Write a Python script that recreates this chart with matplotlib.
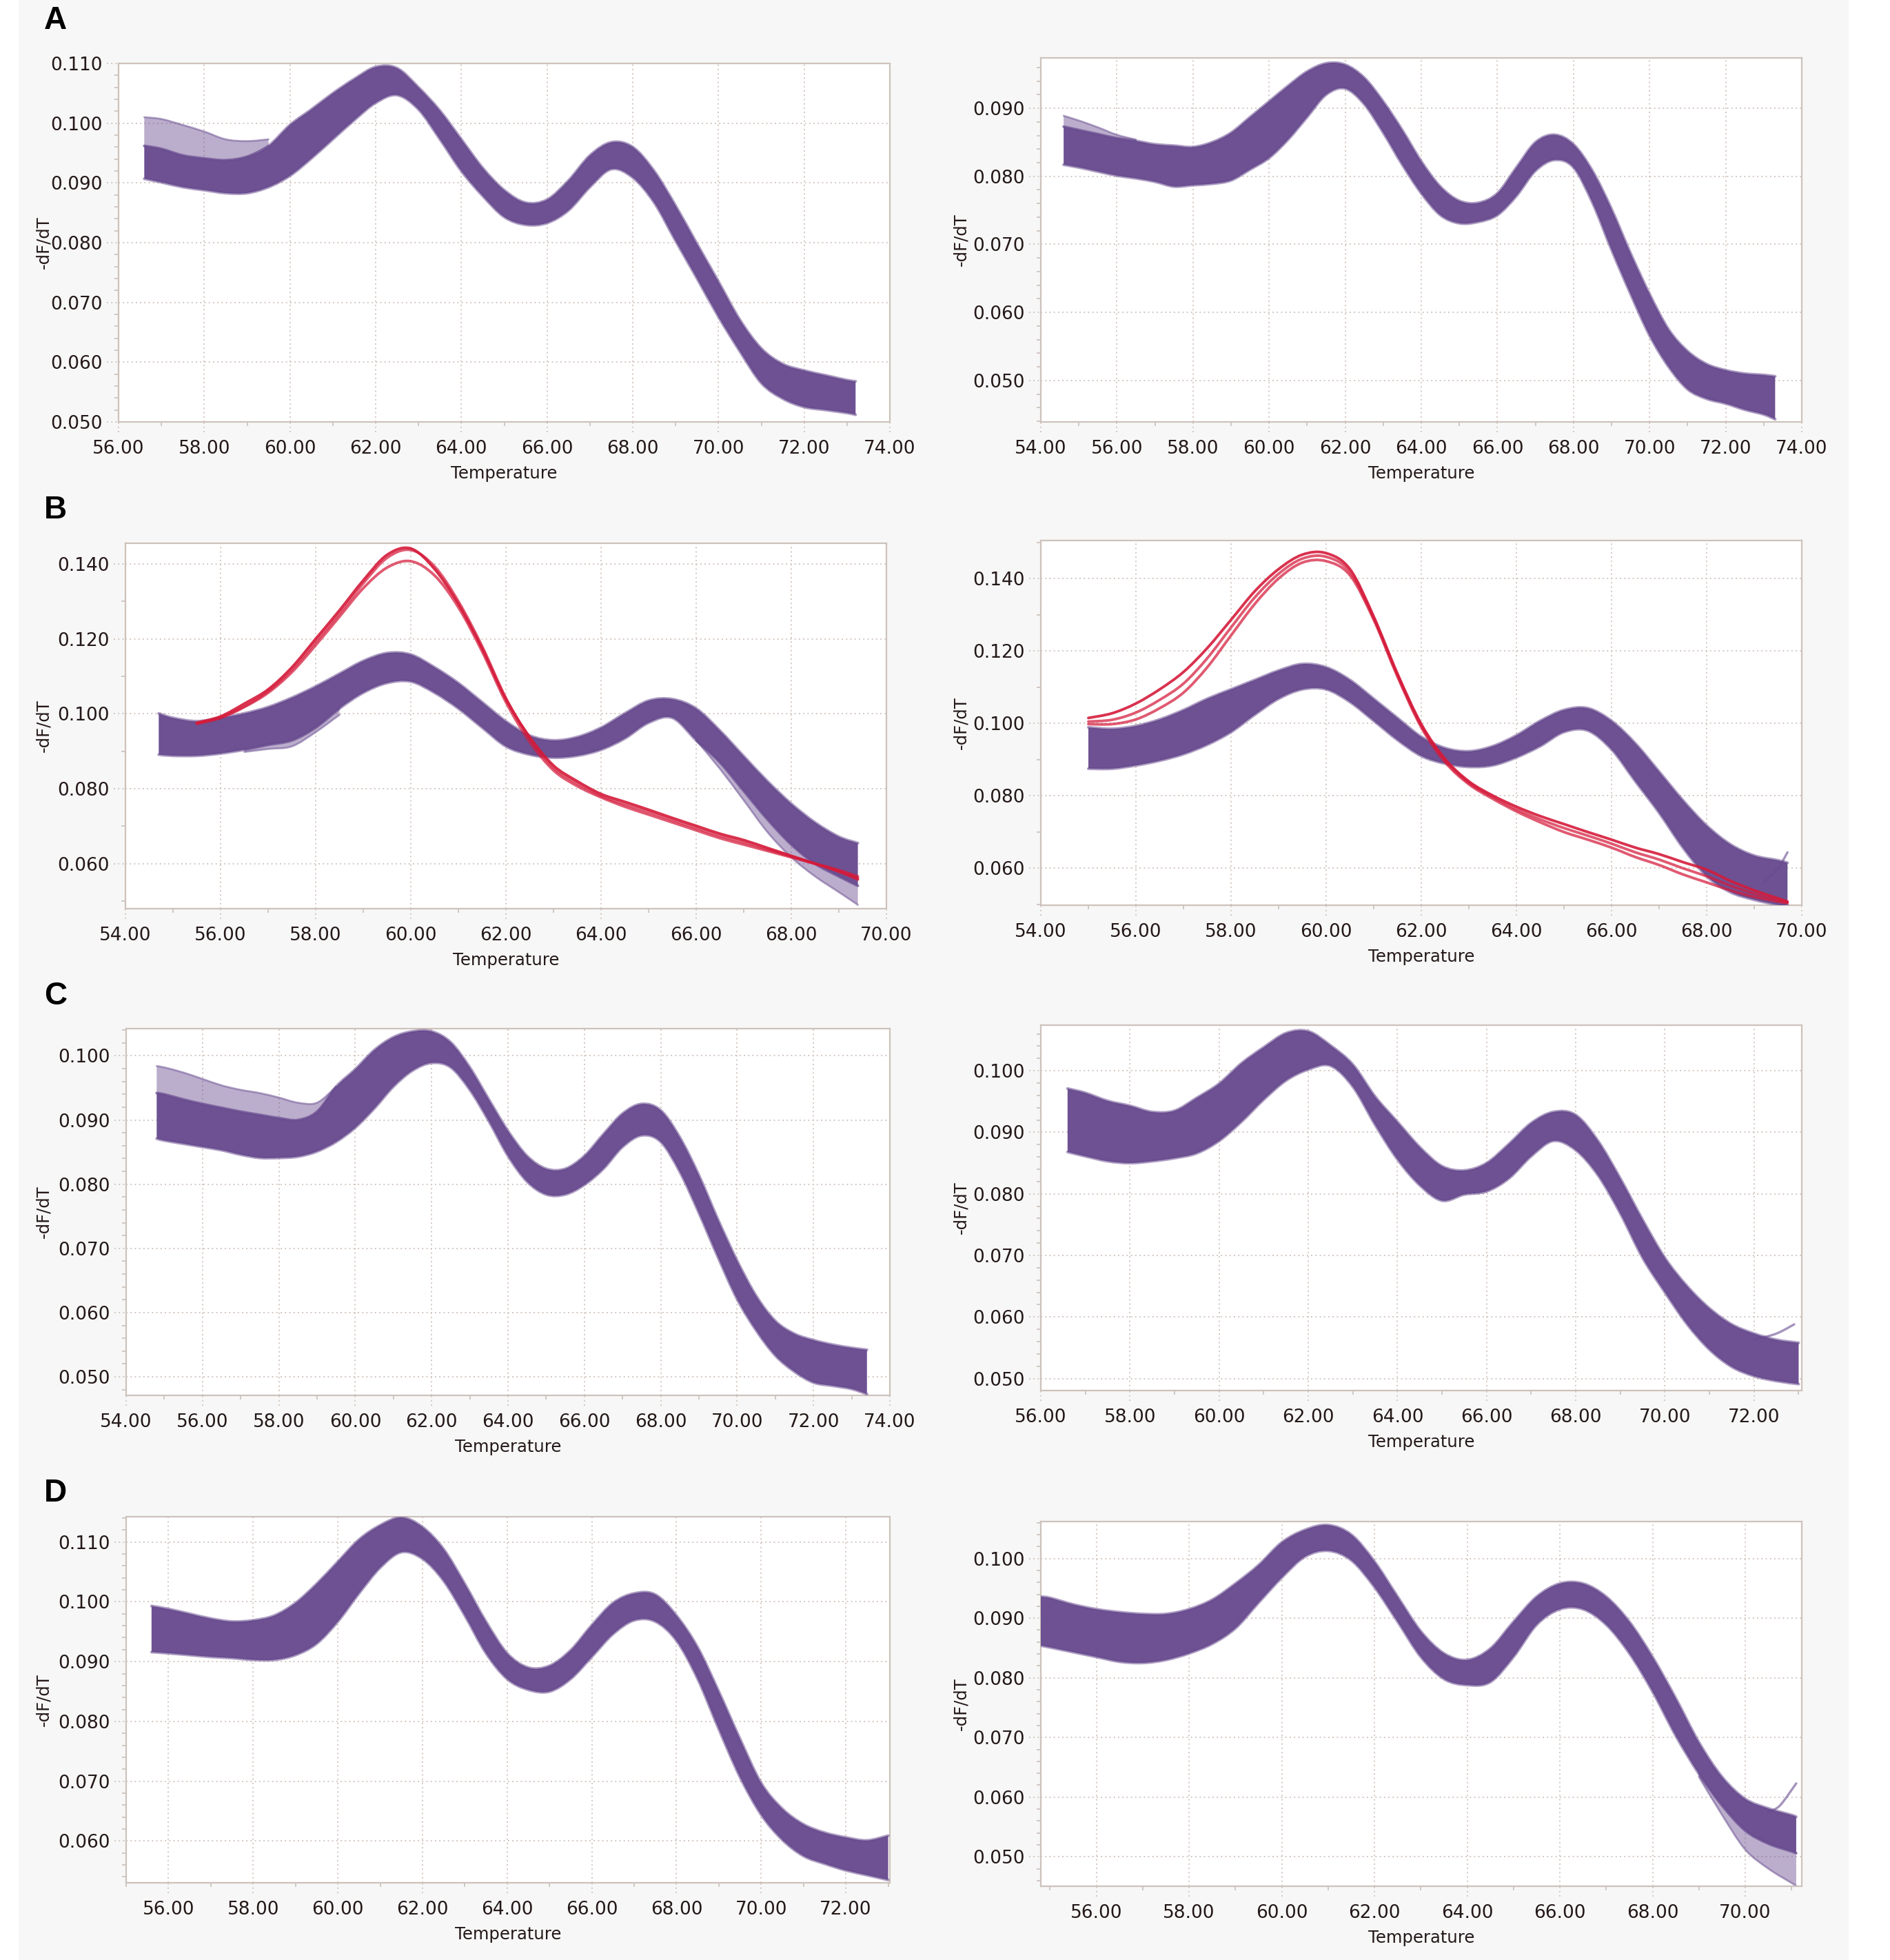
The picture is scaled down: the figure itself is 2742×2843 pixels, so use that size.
import matplotlib
matplotlib.use("Agg")
import matplotlib.pyplot as plt
from matplotlib.patches import Rectangle, PathPatch
from matplotlib.path import Path
from matplotlib.lines import Line2D
from matplotlib.transforms import blended_transform_factory
from matplotlib.ticker import MultipleLocator, FormatStrFormatter

# ---------------- data ----------------
# Panel A, left
A1_T = [56.6, 57, 57.5, 58, 58.5, 59, 59.5, 60, 60.5, 61, 61.5, 62, 62.5, 63, 63.5, 64, 64.5, 65,
        65.5, 66, 66.5, 67, 67.5, 68, 68.5, 69, 69.5, 70, 70.5, 71, 71.5, 72, 72.5, 73, 73.2]
A1_hi = [0.0962, 0.0957, 0.0946, 0.0941, 0.0938, 0.0944, 0.0962, 0.0997, 0.1023, 0.1050, 0.1074,
         0.1094, 0.1092, 0.1060, 0.1021, 0.0973, 0.0925, 0.0888, 0.0867, 0.0872, 0.0904, 0.0946,
         0.0968, 0.0960, 0.0920, 0.0862, 0.0798, 0.0735, 0.0671, 0.0623, 0.0597, 0.0586, 0.0578,
         0.0570, 0.0568]
A1_lo = [0.0907, 0.0901, 0.0893, 0.0888, 0.0883, 0.0883, 0.0893, 0.0912, 0.0941, 0.0973, 0.1005,
         0.1034, 0.1047, 0.1023, 0.0973, 0.0920, 0.0878, 0.0843, 0.0830, 0.0833, 0.0854, 0.0893,
         0.0923, 0.0909, 0.0867, 0.0803, 0.0740, 0.0676, 0.0618, 0.0565, 0.0539, 0.0525, 0.0520,
         0.0515, 0.0512]
A1_light_T = [56.6, 57, 57.5, 58, 58.5, 59, 59.5]
A1_light_hi = [0.1010, 0.1007, 0.0997, 0.0986, 0.0973, 0.0970, 0.0973]
A1_light_lo = [0.0962, 0.0957, 0.0946, 0.0941, 0.0938, 0.0944, 0.0962]

# Panel A, right
A2_T = [54.6, 55, 55.5, 56, 56.5, 57, 57.5, 58, 58.5, 59, 59.5, 60, 60.5, 61, 61.5, 62, 62.5, 63,
        63.5, 64, 64.5, 65, 65.5, 66, 66.5, 67, 67.5, 68, 68.5, 69, 69.5, 70, 70.5, 71, 71.5, 72,
        72.5, 73, 73.3]
A2_hi = [0.0873, 0.0868, 0.0862, 0.0856, 0.0852, 0.0847, 0.0845, 0.0843, 0.0850, 0.0864, 0.0887,
         0.0910, 0.0933, 0.0954, 0.0966, 0.0964, 0.0945, 0.0910, 0.0868, 0.0822, 0.0785, 0.0764,
         0.0761, 0.0775, 0.0813, 0.0850, 0.0861, 0.0847, 0.0808, 0.0752, 0.0687, 0.0627, 0.0575,
         0.0543, 0.0524, 0.0515, 0.0510, 0.0508, 0.0506]
A2_lo = [0.0817, 0.0813, 0.0807, 0.0801, 0.0797, 0.0792, 0.0785, 0.0787, 0.0789, 0.0794, 0.0810,
         0.0827, 0.0854, 0.0887, 0.0920, 0.0929, 0.0906, 0.0864, 0.0817, 0.0775, 0.0743, 0.0731,
         0.0733, 0.0743, 0.0771, 0.0808, 0.0824, 0.0813, 0.0761, 0.0692, 0.0627, 0.0566, 0.0520,
         0.0487, 0.0473, 0.0466, 0.0457, 0.0450, 0.0443]
A2_light_T = [54.6, 55, 55.5, 56, 56.5]
A2_light_hi = [0.0889, 0.0882, 0.0872, 0.0861, 0.0854]
A2_light_lo = [0.0873, 0.0868, 0.0862, 0.0856, 0.0852]

# Panel B, left (purple bundle + red curves)
B1_T = [54.7, 55, 55.5, 56, 56.5, 57, 57.5, 58, 58.5, 59, 59.5, 60, 60.5, 61, 61.5, 62, 62.5, 63,
        63.5, 64, 64.5, 65, 65.5, 66, 66.5, 67, 67.5, 68, 68.5, 69, 69.4]
B1_hi = [0.1001, 0.0989, 0.0980, 0.0989, 0.1001, 0.1018, 0.1043, 0.1073, 0.1107, 0.1141, 0.1162,
         0.1158, 0.1124, 0.1082, 0.1031, 0.0980, 0.0942, 0.0929, 0.0938, 0.0963, 0.1001, 0.1035,
         0.1039, 0.1014, 0.0955, 0.0887, 0.0820, 0.0760, 0.0710, 0.0672, 0.0655]
B1_lo = [0.0891, 0.0888, 0.0888, 0.0894, 0.0904, 0.0917, 0.0929, 0.0963, 0.1014, 0.1056, 0.1082,
         0.1086, 0.1056, 0.1014, 0.0963, 0.0913, 0.0891, 0.0883, 0.0888, 0.0904, 0.0934, 0.0976,
         0.0989, 0.0929, 0.0870, 0.0794, 0.0718, 0.0651, 0.0600, 0.0566, 0.0541]
B1_light_T = [66, 66.5, 67, 67.5, 68, 68.5, 69, 69.4]
B1_light_hi = [0.0929, 0.0870, 0.0794, 0.0718, 0.0651, 0.0600, 0.0566, 0.0541]
B1_light_lo = [0.0929, 0.0853, 0.0769, 0.0684, 0.0617, 0.0566, 0.0524, 0.0490]
B1_light2_T = [56.5, 57, 57.5, 58, 58.5]
B1_light2_hi = [0.0904, 0.0917, 0.0929, 0.0963, 0.1014]
B1_light2_lo = [0.0898, 0.0906, 0.0913, 0.0951, 0.0997]
B1_red_T = [55.5, 56, 56.5, 57, 57.5, 58, 58.5, 59, 59.5, 60, 60.5, 61, 61.5, 62, 62.5, 63, 63.5,
            64, 64.5, 65, 65.5, 66, 66.5, 67, 67.5, 68, 68.5, 69, 69.4]
B1_red1 = [0.0976, 0.0993, 0.1027, 0.1065, 0.1124, 0.1200, 0.1276, 0.1356, 0.1424, 0.1441, 0.1386,
           0.1293, 0.1174, 0.1039, 0.0938, 0.0862, 0.0820, 0.0786, 0.0765, 0.0744, 0.0722, 0.0701,
           0.0680, 0.0663, 0.0642, 0.0621, 0.0600, 0.0579, 0.0558]
B1_red2 = [0.0973, 0.0989, 0.1018, 0.1056, 0.1111, 0.1183, 0.1259, 0.1335, 0.1390, 0.1407, 0.1369,
           0.1284, 0.1166, 0.1031, 0.0925, 0.0849, 0.0807, 0.0777, 0.0752, 0.0731, 0.0710, 0.0689,
           0.0668, 0.0651, 0.0634, 0.0617, 0.0600, 0.0583, 0.0566]
B1_red3 = [0.0975, 0.0990, 0.1020, 0.1060, 0.1118, 0.1192, 0.1268, 0.1348, 0.1416, 0.1437, 0.1393,
           0.1300, 0.1180, 0.1042, 0.0935, 0.0856, 0.0814, 0.0781, 0.0758, 0.0738, 0.0716, 0.0695,
           0.0674, 0.0657, 0.0638, 0.0619, 0.0600, 0.0581, 0.0562]

# Panel B, right
B2_T = [55, 55.5, 56, 56.5, 57, 57.5, 58, 58.5, 59, 59.5, 60, 60.5, 61, 61.5, 62, 62.5, 63, 63.5,
        64, 64.5, 65, 65.5, 66, 66.5, 67, 67.5, 68, 68.5, 69, 69.5, 69.7]
B2_hi = [0.0989, 0.0985, 0.0993, 0.1011, 0.1037, 0.1068, 0.1094, 0.1120, 0.1146, 0.1164, 0.1155,
         0.1120, 0.1068, 0.1015, 0.0963, 0.0932, 0.0923, 0.0937, 0.0967, 0.1007, 0.1037, 0.1042,
         0.1007, 0.0945, 0.0867, 0.0788, 0.0718, 0.0666, 0.0635, 0.0622, 0.0615]
B2_lo = [0.0875, 0.0875, 0.0884, 0.0897, 0.0915, 0.0941, 0.0976, 0.1024, 0.1068, 0.1094, 0.1094,
         0.1059, 0.1007, 0.0954, 0.0910, 0.0889, 0.0880, 0.0884, 0.0906, 0.0937, 0.0976, 0.0980,
         0.0928, 0.0840, 0.0753, 0.0657, 0.0578, 0.0534, 0.0513, 0.0499, 0.0499]
B2_out_T = [69.2, 69.5, 69.7]
B2_out = [0.0560, 0.0600, 0.0644]
B2_red_T = B2_T
B2_red1 = [0.1015, 0.1028, 0.1055, 0.1094, 0.1142, 0.1208, 0.1286, 0.1365, 0.1426, 0.1466, 0.1470,
           0.1426, 0.1295, 0.1137, 0.0998, 0.0902, 0.0840, 0.0801, 0.0770, 0.0744, 0.0722, 0.0700,
           0.0679, 0.0657, 0.0639, 0.0617, 0.0596, 0.0565, 0.0539, 0.0517, 0.0508]
B2_red2 = [0.0998, 0.0998, 0.1011, 0.1042, 0.1085, 0.1155, 0.1243, 0.1330, 0.1400, 0.1444, 0.1448,
           0.1409, 0.1286, 0.1129, 0.0989, 0.0893, 0.0832, 0.0792, 0.0757, 0.0727, 0.0700, 0.0679,
           0.0657, 0.0631, 0.0609, 0.0583, 0.0561, 0.0539, 0.0521, 0.0508, 0.0504]
B2_red3 = [0.1005, 0.1010, 0.1030, 0.1065, 0.1110, 0.1180, 0.1265, 0.1348, 0.1413, 0.1455, 0.1460,
           0.1418, 0.1290, 0.1133, 0.0994, 0.0898, 0.0836, 0.0797, 0.0763, 0.0735, 0.0711, 0.0690,
           0.0668, 0.0644, 0.0624, 0.0600, 0.0578, 0.0552, 0.0530, 0.0512, 0.0506]

# Panel C, left
C1_T = [54.8, 55, 55.5, 56, 56.5, 57, 57.5, 58, 58.5, 59, 59.5, 60, 60.5, 61, 61.5, 62, 62.5, 63,
        63.5, 64, 64.5, 65, 65.5, 66, 66.5, 67, 67.5, 68, 68.5, 69, 69.5, 70, 70.5, 71, 71.5, 72,
        72.5, 73, 73.4]
C1_hi = [0.0942, 0.0940, 0.0932, 0.0925, 0.0919, 0.0913, 0.0908, 0.0903, 0.0900, 0.0913, 0.0952,
         0.0979, 0.1009, 0.1029, 0.1038, 0.1038, 0.1021, 0.0982, 0.0932, 0.0883, 0.0844, 0.0824,
         0.0824, 0.0844, 0.0878, 0.0910, 0.0925, 0.0915, 0.0873, 0.0814, 0.0745, 0.0681, 0.0626,
         0.0587, 0.0567, 0.0557, 0.0550, 0.0545, 0.0542]
C1_lo = [0.0871, 0.0868, 0.0863, 0.0858, 0.0853, 0.0846, 0.0841, 0.0841, 0.0843, 0.0851, 0.0866,
         0.0888, 0.0918, 0.0952, 0.0977, 0.0989, 0.0982, 0.0947, 0.0898, 0.0844, 0.0804, 0.0784,
         0.0784, 0.0799, 0.0824, 0.0858, 0.0876, 0.0866, 0.0819, 0.0755, 0.0686, 0.0621, 0.0572,
         0.0533, 0.0508, 0.0491, 0.0486, 0.0481, 0.0473]
C1_light_T = [54.8, 55, 55.5, 56, 56.5, 57, 57.5, 58, 58.5, 59, 59.5]
C1_light_hi = [0.0984, 0.0982, 0.0974, 0.0964, 0.0954, 0.0947, 0.0942, 0.0935, 0.0927, 0.0927, 0.0952]
C1_light_lo = [0.0942, 0.0940, 0.0932, 0.0925, 0.0919, 0.0913, 0.0908, 0.0903, 0.0900, 0.0913, 0.0952]

# Panel C, right
C2_T = [56.6, 57, 57.5, 58, 58.5, 59, 59.5, 60, 60.5, 61, 61.5, 62, 62.5, 63, 63.5, 64, 64.5, 65,
        65.5, 66, 66.5, 67, 67.5, 68, 68.5, 69, 69.5, 70, 70.5, 71, 71.5, 72, 72.5, 73]
C2_hi = [0.0971, 0.0964, 0.0951, 0.0943, 0.0933, 0.0935, 0.0956, 0.0979, 0.1012, 0.1038, 0.1061,
         0.1064, 0.1041, 0.1010, 0.0958, 0.0917, 0.0876, 0.0845, 0.0838, 0.0850, 0.0881, 0.0915,
         0.0933, 0.0928, 0.0886, 0.0825, 0.0758, 0.0696, 0.0650, 0.0614, 0.0588, 0.0573, 0.0563,
         0.0558]
C2_lo = [0.0868, 0.0861, 0.0853, 0.0850, 0.0853, 0.0858, 0.0866, 0.0886, 0.0917, 0.0953, 0.0984,
         0.1002, 0.1008, 0.0974, 0.0912, 0.0856, 0.0814, 0.0789, 0.0799, 0.0804, 0.0825, 0.0861,
         0.0886, 0.0871, 0.0830, 0.0768, 0.0696, 0.0640, 0.0588, 0.0547, 0.0519, 0.0504, 0.0496,
         0.0491]
C2_out_T = [72, 72.5, 72.9]
C2_out = [0.0563, 0.0573, 0.0588]

# Panel D, left
D1_T = [55.6, 56, 56.5, 57, 57.5, 58, 58.5, 59, 59.5, 60, 60.5, 61, 61.5, 62, 62.5, 63, 63.5, 64,
        64.5, 65, 65.5, 66, 66.5, 67, 67.5, 68, 68.5, 69, 69.5, 70, 70.5, 71, 71.5, 72, 72.5, 73]
D1_hi = [0.0993, 0.0988, 0.0980, 0.0972, 0.0967, 0.0969, 0.0977, 0.0998, 0.1030, 0.1067, 0.1104,
         0.1128, 0.1141, 0.1125, 0.1088, 0.1030, 0.0967, 0.0914, 0.0890, 0.0893, 0.0919, 0.0961,
         0.0998, 0.1014, 0.1012, 0.0977, 0.0924, 0.0850, 0.0771, 0.0697, 0.0654, 0.0628, 0.0614,
         0.0606, 0.0601, 0.0609]
D1_lo = [0.0916, 0.0914, 0.0911, 0.0908, 0.0906, 0.0903, 0.0903, 0.0911, 0.0930, 0.0967, 0.1014,
         0.1057, 0.1083, 0.1072, 0.1035, 0.0977, 0.0914, 0.0871, 0.0853, 0.0850, 0.0871, 0.0908,
         0.0946, 0.0969, 0.0967, 0.0935, 0.0871, 0.0787, 0.0707, 0.0644, 0.0602, 0.0575, 0.0562,
         0.0551, 0.0543, 0.0535]

# Panel D, right
D2_T = [54.8, 55, 55.5, 56, 56.5, 57, 57.5, 58, 58.5, 59, 59.5, 60, 60.5, 61, 61.5, 62, 62.5, 63,
        63.5, 64, 64.5, 65, 65.5, 66, 66.5, 67, 67.5, 68, 68.5, 69, 69.5, 70, 70.5, 71, 71.1]
D2_hi = [0.0936, 0.0934, 0.0923, 0.0915, 0.0910, 0.0907, 0.0907, 0.0915, 0.0931, 0.0958, 0.0989,
         0.1027, 0.1048, 0.1056, 0.1040, 0.0995, 0.0936, 0.0878, 0.0841, 0.0830, 0.0849, 0.0894,
         0.0936, 0.0958, 0.0958, 0.0936, 0.0894, 0.0835, 0.0766, 0.0692, 0.0634, 0.0597, 0.0581,
         0.0570, 0.0567]
D2_lo = [0.0854, 0.0851, 0.0843, 0.0835, 0.0827, 0.0825, 0.0830, 0.0841, 0.0857, 0.0883, 0.0926,
         0.0968, 0.1003, 0.1013, 0.0997, 0.0952, 0.0894, 0.0835, 0.0798, 0.0788, 0.0793, 0.0835,
         0.0889, 0.0915, 0.0915, 0.0889, 0.0841, 0.0777, 0.0703, 0.0639, 0.0586, 0.0544, 0.0522,
         0.0509, 0.0506]
D2_light_T = [69, 69.5, 70, 70.5, 71, 71.1]
D2_light_hi = [0.0639, 0.0586, 0.0544, 0.0522, 0.0509, 0.0506]
D2_light_lo = [0.0634, 0.0570, 0.0512, 0.0480, 0.0456, 0.0451]
D2_out_T = [70.5, 70.75, 71.1]
D2_out = [0.0575, 0.0586, 0.0623]

X_LABEL = "Temperature"
Y_LABEL = "-dF/dT"
LETTERS = ["A", "B", "C", "D"]

# ---------------- layout / style ----------------
W, H = 2742, 2843
PURPLE = "#684b8f"
RED = "#d51b3b"
FONT = "DejaVu Sans"
TICK_COLOR = "#241818"
GRID_COLOR = "#d3c7c0"
GRID_LS = (0, (1, 2.2))


def bezier(xs, ys):
    """Smooth drawing path through the read points (Catmull-Rom as cubic Bezier)."""
    pts = list(zip(xs, ys))
    n = len(pts)
    verts = [pts[0]]
    codes = [Path.MOVETO]
    for i in range(n - 1):
        p0 = pts[i - 1] if i > 0 else pts[i]
        p1 = pts[i]
        p2 = pts[i + 1]
        p3 = pts[i + 2] if i + 2 < n else pts[i + 1]
        c1 = (p1[0] + (p2[0] - p0[0]) / 6.0, p1[1] + (p2[1] - p0[1]) / 6.0)
        c2 = (p2[0] - (p3[0] - p1[0]) / 6.0, p2[1] - (p3[1] - p1[1]) / 6.0)
        verts += [c1, c2, p2]
        codes += [Path.CURVE4] * 3
    return verts, codes


def band(ax, xs, lo, hi, **kw):
    vu, cu = bezier(xs, hi)
    vl, cl = bezier(xs[::-1], lo[::-1])
    cl[0] = Path.LINETO
    verts = vu + vl + [vu[0]]
    codes = cu + cl + [Path.CLOSEPOLY]
    ax.add_patch(PathPatch(Path(verts, codes), **kw))


def curve(ax, xs, ys, **kw):
    v, c = bezier(xs, ys)
    ax.add_patch(PathPatch(Path(v, c), fill=False, capstyle="round", joinstyle="round", **kw))


fig = plt.figure(figsize=(W / 100, H / 100), dpi=100, facecolor="#f7f7f7")
fig.patches.append(Rectangle((0, 0), 27 / W, 1, transform=fig.transFigure,
                             facecolor="white", edgecolor="none", zorder=0))
fig.patches.append(Rectangle((2682 / W, 0), 60 / W, 1, transform=fig.transFigure,
                             facecolor="white", edgecolor="none", zorder=0))

panels = [
    dict(box=(172, 1291, 92, 612), xlim=(56, 74), ylim=(0.050, 0.110), ymaj=0.01, ymin=0.002,
         T=A1_T, hi=A1_hi, lo=A1_lo, light=[(A1_light_T, A1_light_lo, A1_light_hi)], ylx=63),
    dict(box=(1510, 2614, 84, 612), xlim=(54, 74), ylim=(0.0439, 0.0974), ymaj=0.01, ymin=0.002,
         T=A2_T, hi=A2_hi, lo=A2_lo, light=[(A2_light_T, A2_light_lo, A2_light_hi)], ylx=1394),
    dict(box=(182, 1286, 788, 1318), xlim=(54, 70), ylim=(0.048, 0.1455), ymaj=0.02, ymin=0.01,
         T=B1_T, hi=B1_hi, lo=B1_lo,
         light=[(B1_light_T, B1_light_lo, B1_light_hi), (B1_light2_T, B1_light2_lo, B1_light2_hi)],
         red=(B1_red_T, [B1_red1, B1_red3, B1_red2]), ylx=63),
    dict(box=(1510, 2614, 784, 1313), xlim=(54, 70), ylim=(0.0498, 0.1505), ymaj=0.02, ymin=0.01,
         T=B2_T, hi=B2_hi, lo=B2_lo, out=[(B2_out_T, B2_out)],
         red=(B2_red_T, [B2_red1, B2_red3, B2_red2]), ylx=1394),
    dict(box=(183, 1291, 1492, 2024), xlim=(54, 74), ylim=(0.0471, 0.10424), ymaj=0.01, ymin=0.002,
         T=C1_T, hi=C1_hi, lo=C1_lo, light=[(C1_light_T, C1_light_lo, C1_light_hi)], ylx=63),
    dict(box=(1510, 2614, 1487, 2017), xlim=(56, 73.07), ylim=(0.04805, 0.1074), ymaj=0.01, ymin=0.002,
         T=C2_T, hi=C2_hi, lo=C2_lo, out=[(C2_out_T, C2_out)], ylx=1394),
    dict(box=(183, 1291, 2200, 2731), xlim=(55.0, 73.04), ylim=(0.05302, 0.11423), ymaj=0.01, ymin=0.002,
         T=D1_T, hi=D1_hi, lo=D1_lo, ylx=63),
    dict(box=(1510, 2614, 2207, 2736), xlim=(54.8, 71.22), ylim=(0.04506, 0.1062), ymaj=0.01, ymin=0.002,
         T=D2_T, hi=D2_hi, lo=D2_lo, light=[(D2_light_T, D2_light_lo, D2_light_hi)],
         out=[(D2_out_T, D2_out)], ylx=1394),
]

for p in panels:
    x0, x1, y0, y1 = p["box"]
    w = x1 - x0
    h = y1 - y0
    ax = fig.add_axes([x0 / W, 1 - y1 / H, w / W, h / H])
    ax.set_facecolor("white")
    ax.set_xlim(*p["xlim"])
    ax.set_ylim(*p["ylim"])
    ax.xaxis.set_major_locator(MultipleLocator(2))
    ax.xaxis.set_minor_locator(MultipleLocator(1))
    ax.yaxis.set_major_locator(MultipleLocator(p["ymaj"]))
    ax.yaxis.set_minor_locator(MultipleLocator(p["ymin"]))
    ax.xaxis.set_major_formatter(FormatStrFormatter("%.2f"))
    ax.yaxis.set_major_formatter(FormatStrFormatter("%.3f"))
    for s in ax.spines.values():
        s.set_color("#cdc2bb")
        s.set_linewidth(1.6)
    ax.grid(True, which="major", linestyle=GRID_LS, color=GRID_COLOR, linewidth=1.4)
    ax.tick_params(axis="x", which="major", length=0, labelsize=19, labelcolor=TICK_COLOR, pad=19)
    ax.tick_params(axis="y", which="major", length=0, labelsize=19, labelcolor=TICK_COLOR, pad=16.5)
    ax.tick_params(axis="both", which="minor", direction="out", length=4.5, width=1.1,
                   color="#c8bcb4")
    for lab in ax.get_xticklabels() + ax.get_yticklabels():
        lab.set_family(FONT)

    # dotted extensions of the major grid lines outside the frame (act as major ticks)
    bx = blended_transform_factory(ax.transData, ax.transAxes)
    by = blended_transform_factory(ax.transAxes, ax.transData)
    xl = ax.get_xlim()
    yl = ax.get_ylim()
    for v in ax.get_xticks():
        if xl[0] - 1e-9 <= v <= xl[1] + 1e-9:
            ax.add_line(Line2D([v, v], [-15 / h, 0], transform=bx, clip_on=False,
                               color=GRID_COLOR, lw=1.4, ls=GRID_LS))
    for v in ax.get_yticks():
        if yl[0] - 1e-9 <= v <= yl[1] + 1e-9:
            ax.add_line(Line2D([-17 / w, 0], [v, v], transform=by, clip_on=False,
                               color=GRID_COLOR, lw=1.4, ls=GRID_LS))

    # light (sparse) parts of the bundle
    for (lt, llo, lhi) in p.get("light", []):
        band(ax, lt, llo, lhi, facecolor=PURPLE, edgecolor="none", alpha=0.45, zorder=2)
        curve(ax, lt, lhi, edgecolor=PURPLE, alpha=0.5, lw=2.0, zorder=2)
        curve(ax, lt, llo, edgecolor=PURPLE, alpha=0.5, lw=2.0, zorder=2)
    # dense bundle
    band(ax, p["T"], p["lo"], p["hi"], facecolor=PURPLE, edgecolor="none", alpha=0.97, zorder=3)
    curve(ax, p["T"], p["hi"], edgecolor=PURPLE, alpha=0.55, lw=3.0, zorder=3)
    curve(ax, p["T"], p["lo"], edgecolor=PURPLE, alpha=0.55, lw=3.0, zorder=3)
    for (ot, ov) in p.get("out", []):
        curve(ax, ot, ov, edgecolor=PURPLE, alpha=0.6, lw=2.4, zorder=3)
    if "red" in p:
        rt, curves = p["red"]
        for i, rc in enumerate(curves):
            curve(ax, rt, rc, edgecolor=RED, alpha=0.9 if i == 0 else 0.72, lw=2.8, zorder=4)

    # axis labels
    ax.set_xlabel(X_LABEL, fontsize=17.5, family=FONT, color=TICK_COLOR)
    ax.xaxis.set_label_coords(0.5, -75 / h)
    ax.xaxis.label.set_va("center")
    ax.set_ylabel(Y_LABEL, fontsize=17.5, family=FONT, color=TICK_COLOR)
    ax.yaxis.set_label_coords((p["ylx"] - x0) / w, 0.5)
    ax.yaxis.label.set_va("center")

letter_base = [42, 752, 1457, 2178]
for letter, yb in zip(LETTERS, letter_base):
    fig.text(64 / W, 1 - yb / H, letter, fontsize=33, fontweight="bold",
             family="Liberation Sans", va="baseline", ha="left", color="black")

fig.savefig("out.png", dpi=100, facecolor=fig.get_facecolor())
